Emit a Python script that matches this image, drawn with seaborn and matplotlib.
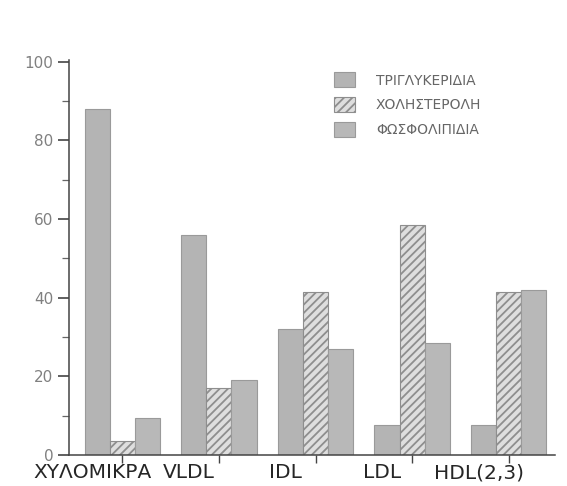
import numpy as np
import pandas as pd
import matplotlib
matplotlib.use("Agg")
import matplotlib.pyplot as plt
import seaborn as sns
from matplotlib.transforms import ScaledTranslation

# ---- data (% composition) ----
classes = ["ΧΥΛΟΜΙΚΡΑ", "VLDL", "IDL", "LDL", "HDL(2,3)"]
series = ["ΤΡΙΓΛΥΚΕΡΙΔΙΑ", "ΧΟΛΗΣΤΕΡΟΛΗ", "ΦΩΣΦΟΛΙΠΙΔΙΑ"]
triglycerides = [88, 56, 32, 7.5, 7.5]
cholesterol = [3.5, 17, 41.5, 58.5, 41.5]
phospholipids = [9.5, 19, 27, 28.5, 42]
yticks = [0, 20, 40, 60, 80, 100]

df = pd.DataFrame({
    "class": classes * 3,
    "lipid": [s for s in series for _ in classes],
    "value": triglycerides + cholesterol + phospholipids,
})

sns.set_style("ticks")
plt.rcParams["font.family"] = ["DejaVu Sans"]
plt.rcParams["hatch.linewidth"] = 1.3

fig = plt.figure(figsize=(5.67, 4.86), dpi=100)
ax = fig.add_axes([0.122, 0.064, 0.857, 0.813])

sns.barplot(data=df, x="class", y="value", hue="lipid", order=classes,
            hue_order=series, palette=["#b4b4b4", "#dedede", "#b8b8b8"],
            width=0.78, gap=0, saturation=1, legend=False, ax=ax)

for i, cont in enumerate(ax.containers):
    for bar in cont:
        bar.set_edgecolor("#9a9a9a")
        bar.set_linewidth(0.8)
        if i == 1:
            bar.set_hatch("////")
            bar.set_edgecolor("#8e8e8e")

ax.set_ylim(0, 100.5)
ax.set_xlim(-0.55, 4.48)
ax.set_yticks(yticks)
ax.set_yticks(np.arange(0, 101, 10), minor=True)
ax.set_yticklabels([str(t) for t in yticks], color="#808080", fontsize=11)
ax.tick_params(axis="y", which="major", length=8, width=1.2, color="#444444")
ax.tick_params(axis="y", which="minor", length=5, width=0.9, color="#666666")
ax.tick_params(axis="x", length=6, width=1.0, color="#444444", labelsize=14.5, pad=0)
ax.set_xticks(range(len(classes)))
ax.set_xticklabels(classes)
for lbl in ax.get_xticklabels():
    lbl.set_transform(lbl.get_transform() + ScaledTranslation(-0.3, 0, fig.dpi_scale_trans))

ax.set_xlabel("")
ax.set_ylabel("")
sns.despine(ax=ax, top=True, right=True)
for side in ["left", "bottom"]:
    ax.spines[side].set_color("#444444")
    ax.spines[side].set_linewidth(1.1)

leg = ax.legend(ax.containers, series, loc="upper left", bbox_to_anchor=(0.52, 1.0),
                frameon=False, fontsize=10, handlelength=1.5, handleheight=1.3,
                labelspacing=0.7, handletextpad=1.5)
for t in leg.get_texts():
    t.set_color("#666666")

plt.savefig("out.png", dpi=100)
